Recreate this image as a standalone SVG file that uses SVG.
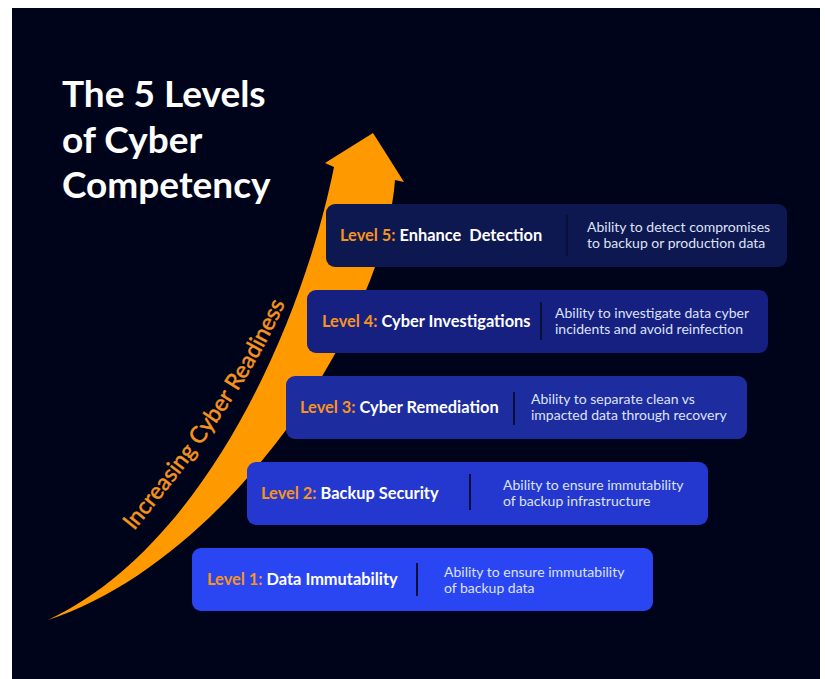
<svg xmlns="http://www.w3.org/2000/svg" width="825" height="679" viewBox="0 0 825 679">
<style>
.title{font-family:Lato,"Liberation Sans",sans-serif;font-weight:700;font-size:37px;fill:#ffffff}
.lbl{font-family:Lato,"Liberation Sans",sans-serif;font-weight:700;font-size:16.4px;fill:#ffffff}
.lvl{fill:#f7941d}
.desc{font-family:Lato,"Liberation Sans",sans-serif;font-weight:400;font-size:14px;fill:#dde2f7}
.div{stroke:#0a0f38;stroke-width:2}
.side{font-family:Lato,"Liberation Sans",sans-serif;font-weight:400;font-size:23px;fill:#f7941d;stroke:#f7941d;stroke-width:0.5}
</style>
<defs>
<path id="tp" d="M134,531 C181,473 247,392 289,295"/>
</defs>
<rect x="0" y="0" width="825" height="679" fill="#ffffff"/>
<rect x="12" y="8" width="808" height="671" fill="#00041a"/>
<g id="title">
<text class="title" x="62" y="107">The 5 Levels</text>
<text class="title" x="62" y="153">of Cyber</text>
<text class="title" x="62" y="198">Competency</text>
</g>
<g id="arrow">
<path d="M48,620 C208,545 304,317 334,167 L325,163 L373,133 L404,182 L395,180 C385,320 230,560 48,620 Z" fill="#ff9900"/>
<text class="side"><textPath href="#tp">Increasing Cyber Readiness</textPath></text>
</g>
<g id="level5">
<rect x="326" y="204" width="461" height="63" rx="9" fill="#0e1850"/>
<text class="lbl" x="340" y="241" xml:space="preserve"><tspan class="lvl">Level 5:</tspan> Enhance  Detection</text>
<line class="div" x1="567" y1="215" x2="567" y2="256"/>
<text class="desc" x="587" y="232">Ability to detect compromises</text>
<text class="desc" x="587" y="248">to backup or production data</text>
</g>
<g id="level4">
<rect x="307" y="290" width="461" height="63" rx="9" fill="#152081"/>
<text class="lbl" x="322" y="327"><tspan class="lvl">Level 4:</tspan> Cyber Investigations</text>
<line class="div" x1="541" y1="302" x2="541" y2="340"/>
<text class="desc" x="555" y="318">Ability to investigate data cyber</text>
<text class="desc" x="555" y="334">incidents and avoid reinfection</text>
</g>
<g id="level3">
<rect x="286" y="376" width="461" height="63" rx="9" fill="#1d2c9e"/>
<text class="lbl" x="300" y="413"><tspan class="lvl">Level 3:</tspan> Cyber Remediation</text>
<line class="div" x1="514" y1="392" x2="514" y2="425"/>
<text class="desc" x="531" y="404">Ability to separate clean vs</text>
<text class="desc" x="531" y="420">impacted data through recovery</text>
</g>
<g id="level2">
<rect x="247" y="462" width="461" height="63" rx="9" fill="#2438cf"/>
<text class="lbl" x="261" y="499"><tspan class="lvl">Level 2:</tspan> Backup Security</text>
<line class="div" x1="470" y1="474" x2="470" y2="510"/>
<text class="desc" x="503" y="490">Ability to ensure immutability</text>
<text class="desc" x="503" y="506">of backup infrastructure</text>
</g>
<g id="level1">
<rect x="192" y="548" width="461" height="63" rx="9" fill="#2a46f2"/>
<text class="lbl" x="207" y="585"><tspan class="lvl">Level 1:</tspan> Data Immutability</text>
<line class="div" x1="417" y1="563" x2="417" y2="596"/>
<text class="desc" x="444" y="577">Ability to ensure immutability</text>
<text class="desc" x="444" y="593">of backup data</text>
</g>
</svg>
